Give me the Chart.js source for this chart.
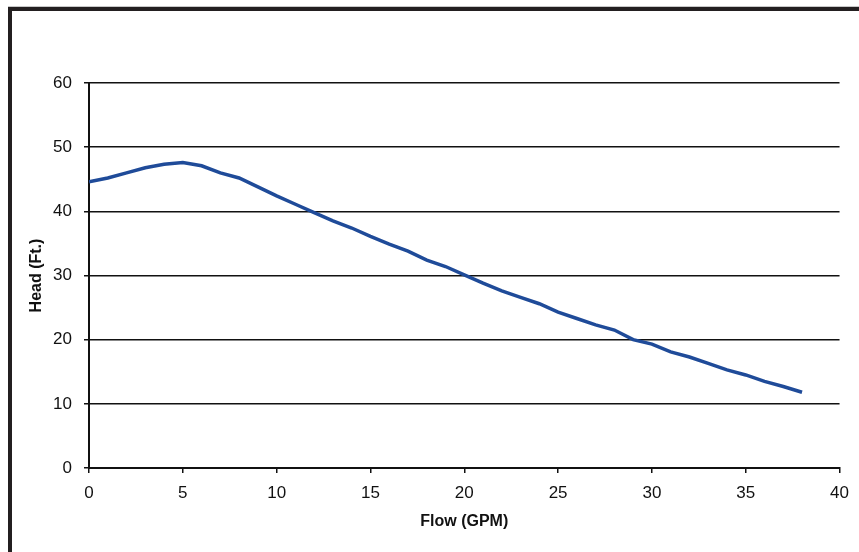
<!DOCTYPE html>
<html>
<head>
<meta charset="utf-8">
<script src="https://cdn.jsdelivr.net/npm/chart.js@4.4.0/dist/chart.umd.min.js"></script>
<style>
  html, body { margin: 0; padding: 0; background: #fff; }
  #wrap { position: relative; width: 859px; height: 552px; overflow: hidden; }
  #frame { position: absolute; left: 8px; top: 7px; width: 900px; height: 600px;
           border-left: 4px solid #231f20; border-top: 4px solid #231f20; box-shadow: 0 -1px 0 #c8c8c8; }
  #myChart { position: absolute; left: 0; top: 0; }
</style>
</head>
<body>
<div id="wrap">
  <div id="frame"></div>
  <canvas id="myChart" width="859" height="552"></canvas>
</div>
<script>
var flowGPM = [0, 1, 2, 3, 4, 5, 6, 7, 8, 9, 10, 11, 12, 13, 14, 15, 16, 17, 18, 19,
               20, 21, 22, 23, 24, 25, 26, 27, 28, 29, 30, 31, 32, 33, 34, 35, 36, 37, 38];
var headFt = [44.6, 45.2, 46.0, 46.8, 47.35, 47.6, 47.1, 46.0, 45.2, 43.8, 42.4, 41.1, 39.8, 38.5, 37.4, 36.1, 34.9, 33.8, 32.4, 31.4,
              30.1, 28.8, 27.6, 26.6, 25.6, 24.3, 23.3, 22.3, 21.5, 20.0, 19.3, 18.1, 17.3, 16.3, 15.3, 14.5, 13.5, 12.7, 11.8];
var xTitle = 'Flow (GPM)';
var yTitle = 'Head (Ft.)';

function draw(){
var points = flowGPM.map(function(f, i){ return {x: f, y: headFt[i]}; });
var ctx = document.getElementById('myChart').getContext('2d');
var myChart = new Chart(ctx, {
    type: 'line',
    data: {
        datasets: [{
            data: points,
            borderColor: '#1f4b99',
            borderWidth: 3.5,
            pointRadius: 0,
            tension: 0,
            fill: false
        }]
    },
    options: {
        responsive: false,
        animation: false,
        devicePixelRatio: 1,
        layout: { padding: { left: 23, top: 83, right: 19, bottom: 17 } },
        plugins: { legend: { display: false }, tooltip: { enabled: false } },
        scales: {
            x: {
                type: 'linear', min: 0, max: 40,
                afterFit: function(s){ s.height = 67; },
                border: { color: '#111', width: 2 },
                grid: { drawOnChartArea: false, drawTicks: true, tickLength: 5, color: '#111', lineWidth: 1.5 },
                ticks: { stepSize: 5, padding: 10, color: '#111', font: { family: 'Liberation Sans, Arial', size: 17 } },
                title: { display: true, text: xTitle, color: '#111', font: { family: 'Liberation Sans, Arial', size: 16, weight: 'bold' } }
            },
            y: {
                min: 0, max: 60,
                afterFit: function(s){ s.width = 66; },
                border: { color: '#111', width: 2 },
                grid: { drawTicks: true, tickLength: 5, color: '#111', lineWidth: 1.5 },
                ticks: { stepSize: 10, padding: 12, color: '#111', font: { family: 'Liberation Sans, Arial', size: 17 } },
                title: { display: true, text: yTitle, color: '#111', font: { family: 'Liberation Sans, Arial', size: 16, weight: 'bold' } }
            }
        }
    }
});
};
draw();
</script>
</body>
</html>
